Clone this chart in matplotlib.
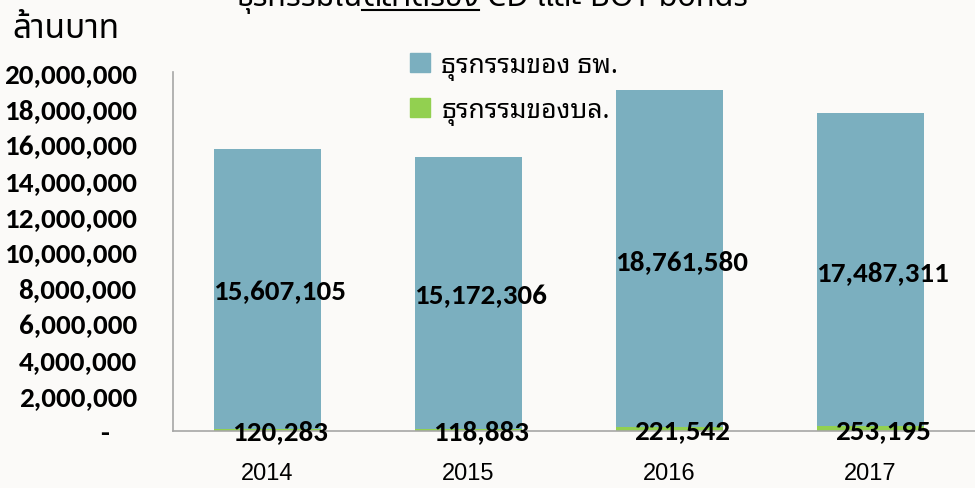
import matplotlib
matplotlib.use('Agg')
import matplotlib.pyplot as plt
from matplotlib.patches import Patch

# data
years = ['2014', '2015', '2016', '2017']
bank = [15607105, 15172306, 18761580, 17487311]   # ธุรกรรมของ ธพ.
people = [120283, 118883, 221542, 253195]         # ธุรกรรมของบล.
yticks = [0, 2000000, 4000000, 6000000, 8000000, 10000000,
          12000000, 14000000, 16000000, 18000000, 20000000]

blue = '#7bafbf'
green = '#92d050'
numfont = ['Carlito', 'Lato', 'DejaVu Sans']
thai = ['Noto Sans Thai', 'DejaVu Sans']
thai_loop = ['Noto Sans Thai Looped', 'DejaVu Sans']

fig = plt.figure(figsize=(9.75, 4.89), dpi=100, facecolor='#fbfaf8')
ax = fig.add_axes([0.1774, 0.1166, 0.8246, 0.7341])
ax.set_facecolor('none')

x = range(len(years))
ax.bar(x, people, width=0.53, color=green)
ax.bar(x, bank, width=0.53, bottom=people, color=blue)

# labels sit a bit right of the bar centre (accounting format padding)
for i in x:
    ax.annotate(f'{bank[i]:,}', (i, people[i] + bank[i] / 2), xytext=(9, -2),
                textcoords='offset points', ha='center', va='center',
                fontsize=21, fontweight='bold', family=numfont)
    ax.annotate(f'{people[i]:,}', (i, people[i] / 2), xytext=(9, -1),
                textcoords='offset points', ha='center', va='center',
                fontsize=21, fontweight='bold', family=numfont)

ax.set_xlim(-0.47, 3.53)
ax.set_ylim(0, 20000000)
ax.set_yticks(yticks)
ax.set_yticklabels(['-    '] + [f'{v:,}' for v in yticks[1:]],
                   fontsize=21, fontweight='bold', family=numfont)
ax.set_xticks(list(x))
ax.set_xticklabels(years, fontsize=17, family=['Liberation Sans Narrow', 'Liberation Sans'])
ax.tick_params(axis='y', length=0, pad=26)
ax.tick_params(axis='x', length=0, pad=22)
for s in ['top', 'right']:
    ax.spines[s].set_visible(False)
for s in ['left', 'bottom']:
    ax.spines[s].set_color('#a6a6a6')
    ax.spines[s].set_linewidth(1.2)

handles = [Patch(color=blue), Patch(color=green)]
ax.legend(handles, ['ธุรกรรมของ ธพ.', 'ธุรกรรมของบล.'], loc='upper left',
          bbox_to_anchor=(386 / 975, 1 - 28 / 489), bbox_transform=fig.transFigure,
          frameon=False, handlelength=0.75, handleheight=0.75, handletextpad=0.45,
          labelspacing=0.6, prop={'family': thai_loop, 'size': 19, 'weight': 'bold'})

fig.text(12 / 975, 1 - 30 / 489, 'ล้านบาท', fontsize=24, family=thai, va='center', ha='left')

# title, mostly cut off at the top edge
fig.canvas.draw()
r = fig.canvas.get_renderer()
parts = [('ธุรกรรมใน', 'semibold', False), ('ตลาดรอง', 'semibold', True), (' CD และ BOT bonds', 'bold', False)]
xpos = 236
ybase = 1 - 6 / 489
for txt, w, ul in parts:
    t = fig.text(xpos / 975, ybase, txt, fontsize=22, fontweight=w, family=thai,
                 va='baseline', ha='left')
    bb = t.get_window_extent(r)
    if ul:
        fig.add_artist(plt.Line2D([xpos / 975, (xpos + bb.width) / 975], [1 - 11 / 489, 1 - 11 / 489],
                                  color='black', lw=1.5, transform=fig.transFigure))
    xpos += bb.width

fig.savefig('out.png', dpi=100, facecolor=fig.get_facecolor())
